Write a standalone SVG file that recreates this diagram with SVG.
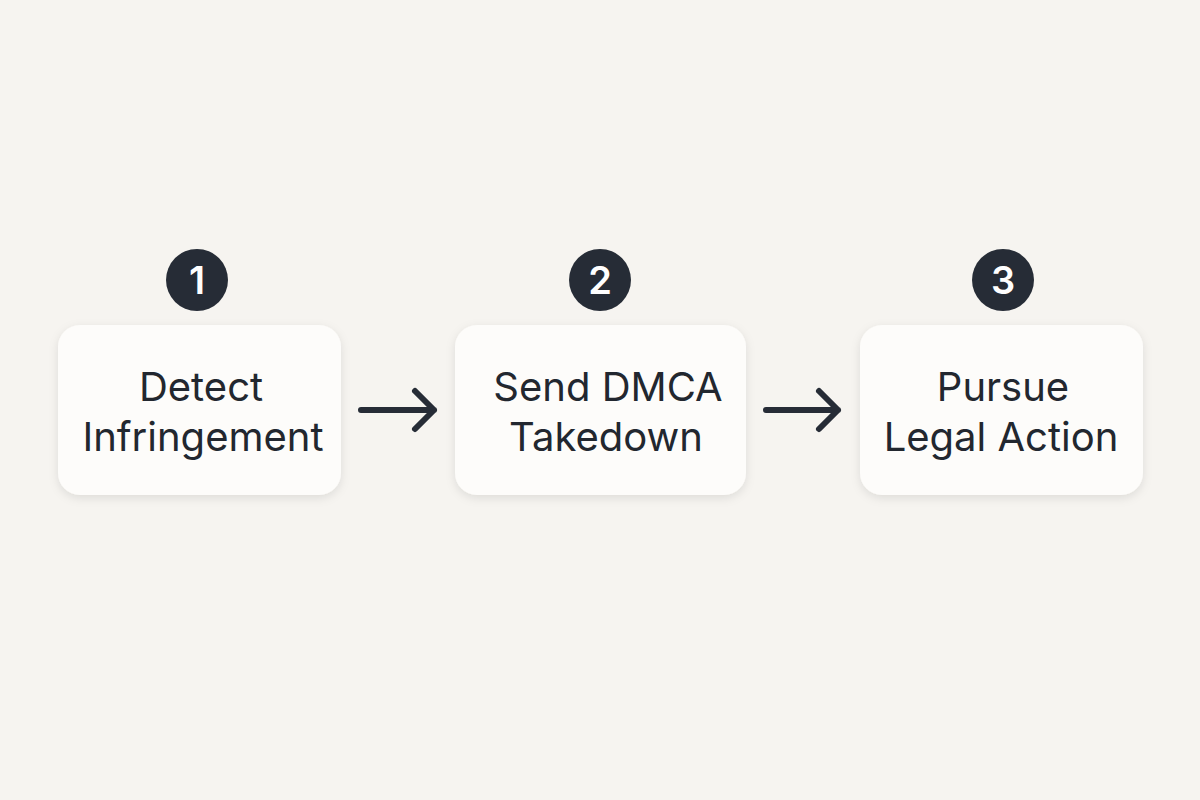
<svg xmlns="http://www.w3.org/2000/svg" width="1200" height="800" viewBox="0 0 1200 800">
<defs>
<filter id="sh" x="-20%" y="-20%" width="140%" height="150%">
<feDropShadow dx="0" dy="3" stdDeviation="5" flood-color="#000" flood-opacity="0.10"/>
</filter>
<style>
.box{fill:#fdfcfa;filter:url(#sh);}
.lbl{font-family:Inter,"Noto Sans",sans-serif;font-size:40px;fill:#22272f;text-anchor:middle;}
.num{font-family:Inter,"Noto Sans",sans-serif;font-size:38px;font-weight:600;fill:#ffffff;text-anchor:middle;}
.badge{fill:#262c36;}
.arr{fill:none;stroke:#262c36;stroke-width:6;stroke-linecap:round;stroke-linejoin:round;}
</style>
</defs>
<rect width="1200" height="800" fill="#f6f4f0"/>
<g id="connectors">
<path class="arr" d="M361 410 H434 M415 391 L434 410 L415 429"/>
<path class="arr" d="M766 410 H838 M819 391 L838 410 L819 429"/>
</g>
<g id="step1">
<rect class="box" x="58" y="325" width="283" height="170" rx="22"/>
<circle class="badge" cx="197" cy="280" r="31"/>
<text class="num" x="197" y="294">1</text>
<text class="lbl" x="201" y="401">Detect</text>
<text class="lbl" x="203" y="451">Infringement</text>
</g>
<g id="step2">
<rect class="box" x="455" y="325" width="291" height="170" rx="22"/>
<circle class="badge" cx="600" cy="280" r="31"/>
<text class="num" x="600" y="294">2</text>
<text class="lbl" x="608" y="401">Send DMCA</text>
<text class="lbl" x="606" y="451">Takedown</text>
</g>
<g id="step3">
<rect class="box" x="860" y="325" width="283" height="170" rx="22"/>
<circle class="badge" cx="1003" cy="280" r="31"/>
<text class="num" x="1003" y="294">3</text>
<text class="lbl" x="1003" y="401">Pursue</text>
<text class="lbl" x="1001" y="451">Legal Action</text>
</g>
</svg>
